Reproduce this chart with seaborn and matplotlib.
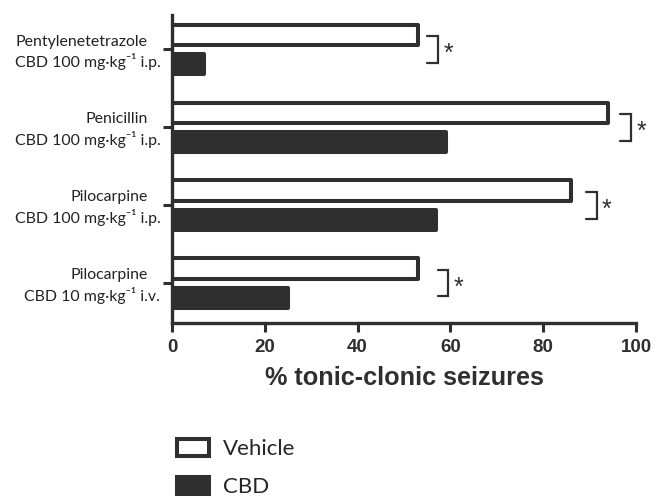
import matplotlib
matplotlib.use("Agg")
import matplotlib.pyplot as plt
from matplotlib.patches import Patch
import pandas as pd
import seaborn as sns

# data
models = ["Pentylenetetrazole", "Penicillin", "Pilocarpine", "Pilocarpine"]
doses = ["CBD 100 mg·kg⁻¹ i.p.", "CBD 100 mg·kg⁻¹ i.p.",
         "CBD 100 mg·kg⁻¹ i.p.", "CBD 10 mg·kg⁻¹ i.v."]
vehicle = [53, 94, 86, 53]
cbd = [7, 59, 57, 25]
groups = ["Vehicle", "CBD"]
xticks = [0, 20, 40, 60, 80, 100]

DARK = "#2f2f2f"
label_font = ["Lato", "DejaVu Sans"]
num_font = "Liberation Sans"

keys = [m + "\n" + d for m, d in zip(models, doses)]
df = pd.DataFrame({
    "condition": keys * 2,
    "treatment": ["Vehicle"] * len(keys) + ["CBD"] * len(keys),
    "value": vehicle + cbd,
})

sns.set_style("ticks")
plt.rcParams["font.family"] = label_font

fig = plt.figure(figsize=(6.65, 4.98), dpi=100)
ax = fig.add_axes([0.2586, 0.3514, 0.6977, 0.6185])

sns.barplot(data=df, x="value", y="condition", hue="treatment", hue_order=groups,
            palette={"Vehicle": "white", "CBD": DARK}, orient="h",
            width=0.756, gap=0.32, edgecolor=DARK, linewidth=2.9,
            errorbar=None, legend=False, ax=ax)
for p in ax.patches:
    p.set_joinstyle("round")

ax.set_xlim(0, 100)
ax.set_ylim(3.51, -0.44)
sns.despine(ax=ax)
for s in ["left", "bottom"]:
    ax.spines[s].set_linewidth(2.4)
    ax.spines[s].set_color(DARK)

ax.set_xticks(xticks)
ax.set_xticklabels([str(t) for t in xticks], fontfamily=num_font,
                   fontweight="bold", fontsize=13.5, color=DARK)
ax.tick_params(axis="x", length=6.5, width=2.2, pad=5, color=DARK)
ax.tick_params(axis="y", length=6.5, width=2.2, color=DARK)
ax.set_yticklabels([])
ax.set_ylabel("")
ax.set_xlabel("% tonic-clonic seizures", fontfamily=num_font, fontweight="bold",
              fontsize=18.2, color=DARK, labelpad=7)

# two-line category labels
ytr = ax.get_yaxis_transform()
for i, (m, d) in enumerate(zip(models, doses)):
    ax.text(-0.053, i - 0.1, m, transform=ytr, ha="right", va="center",
            fontsize=11.4, color="#222222", family=label_font)
    ax.text(-0.025, i + 0.16, d, transform=ytr, ha="right", va="center",
            fontsize=11.4, color="#222222", family=label_font)

# significance brackets
offsets = [2.0, 2.6, 3.2, 4.3]
for i, (v, off) in enumerate(zip(vehicle, offsets)):
    x0 = v + off
    x1 = x0 + 2.3
    ax.plot([x0, x1, x1, x0], [i - 0.17, i - 0.17, i + 0.17, i + 0.17],
            color=DARK, lw=1.6, clip_on=False, solid_joinstyle="miter")
    ax.text(x1 + 2.2, i + 0.15, "*", ha="center", va="baseline",
            fontsize=18, color=DARK, family=num_font, clip_on=False)

handles = [Patch(facecolor="white", edgecolor=DARK, linewidth=2.9),
           Patch(facecolor=DARK, edgecolor=DARK, linewidth=2.9)]
fig.legend(handles, groups, loc="upper left", bbox_to_anchor=(177 / 665, 1 - 439 / 498),
           frameon=False, fontsize=16, handlelength=1.45, handleheight=0.78,
           handletextpad=0.6, labelspacing=0.8, borderpad=0, borderaxespad=0)

fig.savefig("out.png", dpi=100)
